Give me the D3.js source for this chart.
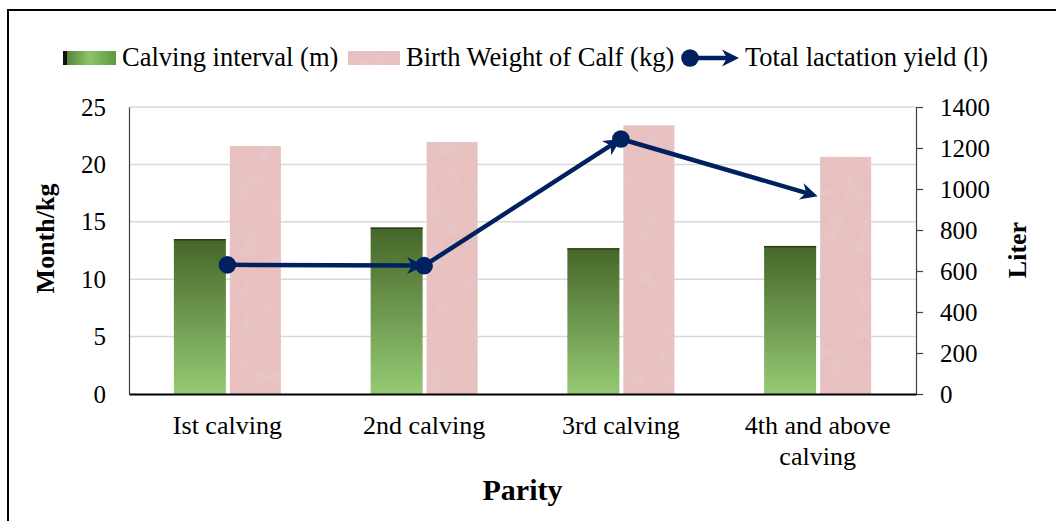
<!DOCTYPE html>
<html>
<head>
<meta charset="utf-8">
<script src="https://cdn.jsdelivr.net/npm/d3@7"></script>
<style>
  html, body { margin: 0; padding: 0; background: #fff; }
  svg { display: block; }
  text { font-family: "Liberation Serif", "Times New Roman", serif; fill: #000; }
</style>
</head>
<body>
<svg id="chart" width="1056" height="521"></svg>
<script>
// ---- data ----
const categories = ["Ist calving", "2nd calving", "3rd calving", "4th and above calving"];
const calvingInterval = [13.5, 14.5, 12.7, 12.9];      // months
const birthWeight = [21.6, 21.95, 23.4, 20.65];        // kg
const lactationYield = [630, 626, 1244, 965];          // liters
const leftTicks = [0, 5, 10, 15, 20, 25];
const rightTicks = [0, 200, 400, 600, 800, 1000, 1200, 1400];
const seriesNames = ["Calving interval (m)", "Birth Weight of Calf (kg)", "Total lactation yield (l)"];
const axisTitles = { left: "Month/kg", right: "Liter", bottom: "Parity" };

// ---- layout ----
const svg = d3.select("#chart");
const plot = { left: 129, right: 916, top: 107, bottom: 394 };
const navy = "#002060";

const x = d3.scaleBand().domain(categories).range([plot.left, plot.right]);
const yL = d3.scaleLinear().domain([0, 25]).range([plot.bottom, plot.top]);
const yR = d3.scaleLinear().domain([0, 1400]).range([plot.bottom, plot.top]);
const cx = c => x(c) + x.bandwidth() / 2;

// ---- defs ----
const defs = svg.append("defs");
const gg = defs.append("linearGradient").attr("id", "greenGrad")
  .attr("x1", 0).attr("y1", 0).attr("x2", 0).attr("y2", 1);
gg.append("stop").attr("offset", "0%").attr("stop-color", "#456629");
gg.append("stop").attr("offset", "100%").attr("stop-color", "#95ca74");
const lg = defs.append("linearGradient").attr("id", "greenGradH")
  .attr("x1", 0).attr("y1", 0).attr("x2", 1).attr("y2", 0);
lg.append("stop").attr("offset", "0%").attr("stop-color", "#4d7a30");
lg.append("stop").attr("offset", "50%").attr("stop-color", "#8cc46a");
lg.append("stop").attr("offset", "100%").attr("stop-color", "#5d9a3c");

const f = defs.append("filter").attr("id", "tex").attr("x", 0).attr("y", 0).attr("width", 1).attr("height", 1);
f.append("feTurbulence").attr("type", "fractalNoise").attr("baseFrequency", 0.07).attr("numOctaves", 3).attr("seed", 4).attr("result", "n");
f.append("feColorMatrix").attr("in", "n").attr("type", "matrix")
  .attr("values", "0 0 0 0 0.80  0 0 0 0 0.62  0 0 0 0 0.62  0.9 0 0 0 -0.38").attr("result", "c");
f.append("feComposite").attr("in", "c").attr("in2", "SourceGraphic").attr("operator", "in").attr("result", "m");
const fm = f.append("feMerge");
fm.append("feMergeNode").attr("in", "SourceGraphic");
fm.append("feMergeNode").attr("in", "m");

// ---- frame ----
svg.append("path").attr("d", "M8,521 L8,10 L1056,10").attr("fill", "none")
  .attr("stroke", "#000").attr("stroke-width", 2);

// ---- gridlines ----
svg.append("g").selectAll("line").data(leftTicks.filter(d => d > 0)).join("line")
  .attr("x1", plot.left).attr("x2", plot.right)
  .attr("y1", d => yL(d)).attr("y2", d => yL(d))
  .attr("stroke", "#d9d9d9").attr("stroke-width", 1.5);

// ---- bars ----
const gW = 52, pW = 51;
svg.append("g").selectAll("rect").data(categories).join("rect")
  .attr("x", (c) => cx(c) - 53.5).attr("width", gW)
  .attr("y", (c, i) => yL(calvingInterval[i]))
  .attr("height", (c, i) => plot.bottom - yL(calvingInterval[i]))
  .attr("fill", "url(#greenGrad)");
svg.append("g").selectAll("line").data(categories).join("line")
  .attr("x1", (c) => cx(c) - 53.5).attr("x2", (c) => cx(c) - 53.5 + gW)
  .attr("y1", (c, i) => yL(calvingInterval[i]) + 0.75)
  .attr("y2", (c, i) => yL(calvingInterval[i]) + 0.75)
  .attr("stroke", "#2c3f1b").attr("stroke-width", 1.5);
svg.append("g").selectAll("rect").data(categories).join("rect")
  .attr("x", (c) => cx(c) + 2.5).attr("width", pW)
  .attr("y", (c, i) => yL(birthWeight[i]))
  .attr("height", (c, i) => plot.bottom - yL(birthWeight[i]))
  .attr("fill", "#e8c0c0").attr("filter", "url(#tex)");

// ---- axes ----
const axL = svg.append("g").attr("transform", `translate(${plot.left},0)`)
  .call(d3.axisLeft(yL).tickValues(leftTicks).tickSize(0).tickPadding(23));
axL.select(".domain").attr("stroke", "#404040").attr("stroke-width", 1.2);
axL.selectAll("text").attr("font-size", 25).attr("font-family", "Liberation Serif").attr("fill", "#000");

const axR = svg.append("g").attr("transform", `translate(${plot.right},0)`)
  .call(d3.axisRight(yR).tickValues(rightTicks).tickFormat(d3.format("d")).tickSize(7).tickPadding(17));
axR.select(".domain").attr("stroke", "#404040").attr("stroke-width", 1.2);
axR.selectAll("line").attr("stroke", "#404040").attr("stroke-width", 1.2);
axR.selectAll("text").attr("font-size", 25).attr("font-family", "Liberation Serif").attr("fill", "#000");

const axB = svg.append("g").attr("transform", `translate(0,${plot.bottom})`)
  .call(d3.axisBottom(x).tickSize(0).tickPadding(0));
axB.select(".domain").attr("stroke", "#000").attr("stroke-width", 2);
axB.selectAll("text").attr("font-size", 26).attr("font-family", "Liberation Serif")
  .attr("fill", "#000").attr("dy", null).attr("y", 40)
  .each(function (d) {
    const t = d3.select(this);
    const words = d.split(" ");
    t.text(null);
    let lines = [], cur = [];
    const probe = t.append("tspan");
    words.forEach(w => {
      const test = cur.concat([w]).join(" ");
      probe.text(test);
      if (probe.node().getComputedTextLength() > 185 && cur.length) { lines.push(cur.join(" ")); cur = [w]; }
      else cur.push(w);
    });
    lines.push(cur.join(" "));
    probe.remove();
    lines.forEach((ln, i) => t.append("tspan").attr("x", 0).attr("dy", i === 0 ? 0 : 31).text(ln));
  });

// ---- axis titles ----
svg.append("text").attr("transform", "translate(54,238.5) rotate(-90)")
  .attr("text-anchor", "middle").attr("font-weight", "bold").attr("font-size", 26).text(axisTitles.left);
svg.append("text").attr("transform", "translate(1026,250) rotate(-90)")
  .attr("text-anchor", "middle").attr("font-weight", "bold").attr("font-size", 26).text(axisTitles.right);
svg.append("text").attr("x", (plot.left + plot.right) / 2).attr("y", 499.5)
  .attr("text-anchor", "middle").attr("font-weight", "bold").attr("font-size", 30).text(axisTitles.bottom);

// ---- line series: each segment oval start, arrow end ----
function arrowHead(g, x1, y1, x2, y2) {
  const ang = Math.atan2(y2 - y1, x2 - x1) * 180 / Math.PI;
  g.append("path").attr("d", "M0,0 L-17,-8.5 L-12,0 L-17,8.5 Z")
    .attr("transform", `translate(${x2},${y2}) rotate(${ang})`).attr("fill", navy);
}
const lineG = svg.append("g");
const pts = categories.map((c, i) => [cx(c), yR(lactationYield[i])]);
for (let i = 0; i < pts.length - 1; i++) {
  const [x1, y1] = pts[i], [x2, y2] = pts[i + 1];
  const len = Math.hypot(x2 - x1, y2 - y1);
  const ex = x2 - (x2 - x1) / len * 12, ey = y2 - (y2 - y1) / len * 12;
  lineG.append("line").attr("x1", x1).attr("y1", y1).attr("x2", ex).attr("y2", ey)
    .attr("stroke", navy).attr("stroke-width", 4.5);
  arrowHead(lineG, x1, y1, x2, y2);
  lineG.append("circle").attr("cx", x1).attr("cy", y1).attr("r", 8.8).attr("fill", navy);
}

// ---- legend ----
const leg = svg.append("g");
leg.append("rect").attr("x", 63).attr("y", 51).attr("width", 53).attr("height", 14).attr("fill", "url(#greenGradH)");
leg.append("rect").attr("x", 63).attr("y", 51).attr("width", 4).attr("height", 14).attr("fill", "#111");
leg.append("text").attr("x", 122).attr("y", 66).attr("font-size", 26.5).text(seriesNames[0]);
leg.append("rect").attr("x", 348).attr("y", 51).attr("width", 52).attr("height", 14).attr("fill", "#e8c0c0").attr("filter", "url(#tex)");
leg.append("text").attr("x", 406).attr("y", 66).attr("font-size", 26.5).text(seriesNames[1]);
leg.append("line").attr("x1", 690).attr("y1", 58).attr("x2", 728).attr("y2", 58).attr("stroke", navy).attr("stroke-width", 4.5);
arrowHead(leg, 690, 58, 739, 58);
leg.append("circle").attr("cx", 690).attr("cy", 58).attr("r", 8.8).attr("fill", navy);
leg.append("text").attr("x", 745).attr("y", 66).attr("font-size", 26.5).text(seriesNames[2]);
</script>
</body>
</html>
